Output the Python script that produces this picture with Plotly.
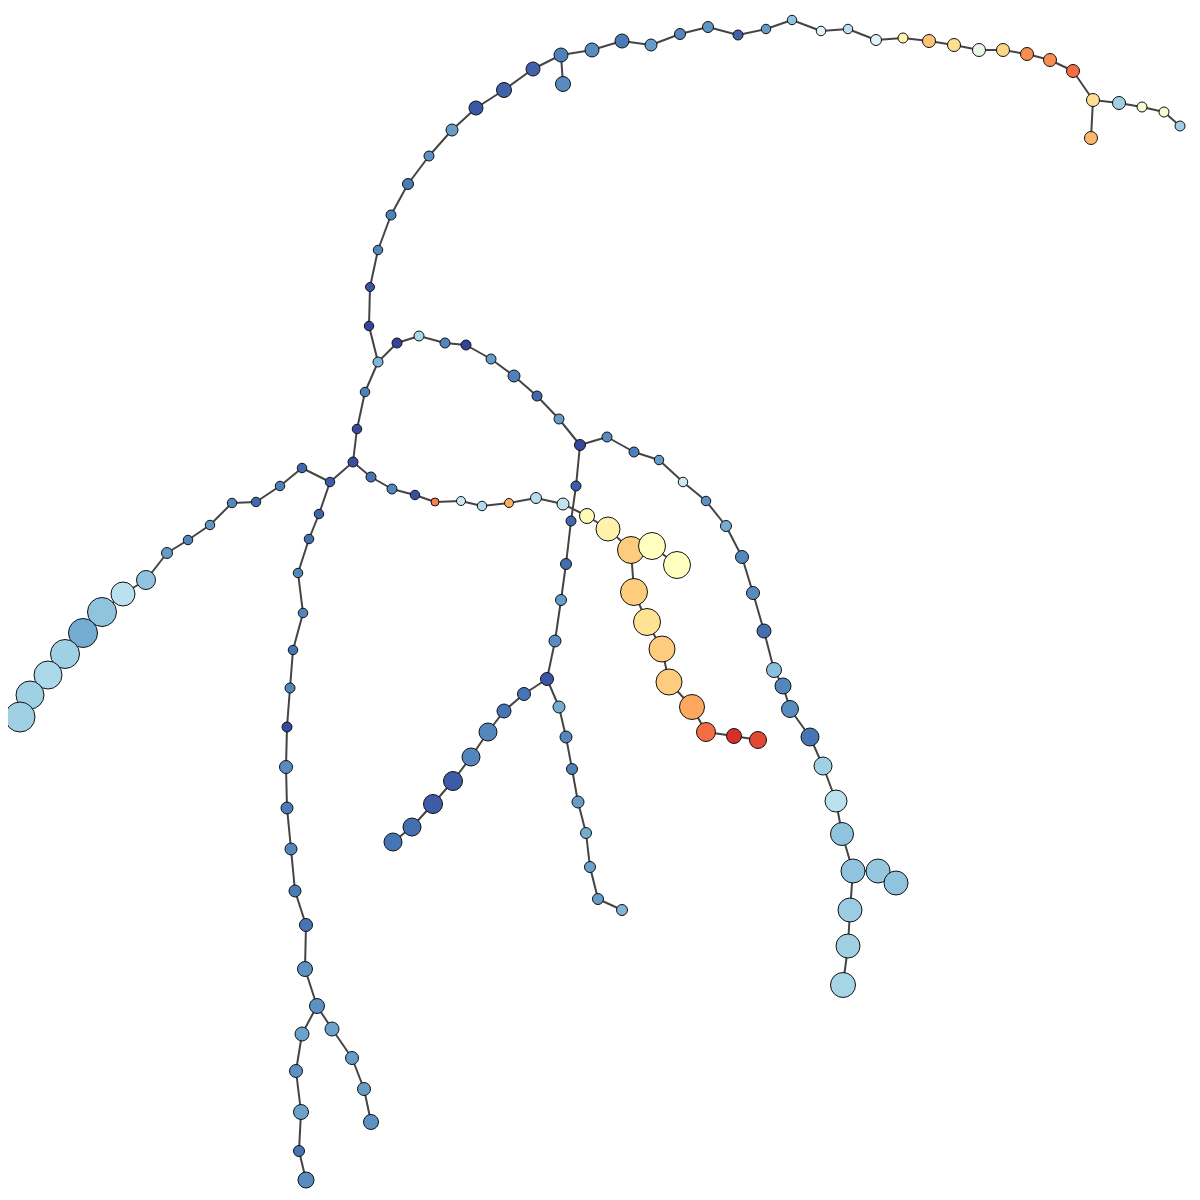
import plotly.graph_objects as go

# Tree layout: node positions (pixel space), node sizes, node values, parent index
node_x = [378, 369, 370, 378, 391, 408, 429, 452, 476, 504, 533, 561, 563, 592, 622, 651, 680, 708, 738, 766,
          792, 821, 848, 876, 903, 929, 954, 979, 1003, 1027, 1050, 1073, 1093, 1091, 1119, 1142, 1164, 1180,
          397, 419, 445, 466, 491, 514, 537, 559, 580,
          607, 634, 659, 683, 706, 726, 742, 753, 764, 774, 783, 790, 810, 823, 836, 842, 853, 878, 896, 850, 848, 843,
          576, 571, 566, 561, 555, 547, 524, 504, 488, 471, 453, 433, 412, 393,
          559, 566, 572, 578, 586, 590, 598, 622,
          365, 357, 353,
          371, 392, 415, 435, 461, 482, 509, 536, 563, 587, 608, 631, 652, 677, 634, 647, 662, 669, 692, 706, 734, 758,
          330, 302, 280, 256, 232, 210, 188, 167, 146, 123, 102, 83, 65, 48, 30, 20,
          319, 309, 298, 303, 293, 290, 287, 286, 287, 291, 295, 306, 305, 317, 302, 296, 301, 299, 306,
          332, 352, 364, 371]
node_y = [362, 326, 287, 250, 215, 184, 156, 130, 108, 90, 69, 55, 84, 50, 41, 45, 34, 27, 35, 29,
          20, 31, 29, 40, 38, 41, 45, 50, 50, 54, 60, 71, 100, 138, 103, 107, 112, 126,
          343, 336, 343, 345, 359, 376, 396, 419, 445,
          437, 452, 460, 482, 501, 526, 557, 593, 631, 670, 686, 709, 737, 766, 801, 834, 871, 871, 883, 910, 946, 985,
          486, 521, 564, 600, 641, 679, 694, 711, 732, 757, 781, 804, 827, 842,
          707, 737, 769, 802, 833, 867, 899, 910,
          392, 429, 462,
          477, 489, 495, 502, 501, 506, 503, 498, 504, 516, 529, 550, 546, 565, 592, 622, 649, 682, 707, 732, 736, 740,
          482, 468, 486, 502, 503, 525, 540, 553, 580, 594, 612, 633, 654, 675, 695, 717,
          514, 539, 573, 613, 650, 688, 727, 767, 808, 849, 891, 925, 969, 1006, 1034, 1071, 1112, 1151, 1180,
          1029, 1058, 1089, 1122]
node_size = [10, 9.5, 9, 9.5, 10, 11, 10, 12, 14, 15, 14, 14, 15, 14, 14, 12, 11, 11, 10, 9.5,
             9.5, 9.5, 9.5, 11, 10, 13, 13, 13, 13, 13, 13, 13, 13, 13, 13, 10, 10, 10,
             10, 10, 10, 10, 10, 12, 10, 10, 11,
             10, 10, 9.5, 9.5, 9.5, 11, 13, 13, 14, 15, 16, 17, 18, 18, 22, 23, 24, 24, 24, 24, 24, 25,
             10, 10, 11, 11, 12, 13, 13, 14, 18, 18, 19, 19, 18, 18,
             12, 12, 11, 12, 11, 11, 11, 11,
             9.5, 9.5, 10,
             10, 10, 9.5, 8, 9, 9.5, 9, 11, 12, 15, 24, 27, 27, 27, 27, 27, 26, 26, 25, 19, 15, 17,
             9.5, 9.5, 9.5, 9.5, 9.5, 9.5, 9.5, 11, 19, 24, 29, 29, 29, 28, 28, 30,
             9.5, 9.5, 9.5, 9.5, 9.5, 10, 10, 13, 12, 12, 12, 13, 15, 15, 14, 13, 15, 11, 16,
             14, 13, 13, 15]
node_value = [0.22, 0.02, 0.05, 0.13, 0.12, 0.11, 0.15, 0.17, 0.05, 0.07, 0.07, 0.12, 0.14, 0.14, 0.11, 0.17, 0.13, 0.16, 0.07, 0.17,
              0.25, 0.40, 0.33, 0.40, 0.53, 0.66, 0.60, 0.43, 0.62, 0.75, 0.75, 0.80, 0.60, 0.68, 0.28, 0.47, 0.47, 0.28,
              0.02, 0.30, 0.13, 0.02, 0.17, 0.12, 0.08, 0.17, 0.03,
              0.14, 0.12, 0.17, 0.36, 0.15, 0.20, 0.13, 0.14, 0.09, 0.24, 0.13, 0.14, 0.10, 0.28, 0.33, 0.25, 0.25, 0.26, 0.25, 0.27, 0.28, 0.29,
              0.06, 0.08, 0.09, 0.17, 0.14, 0.05, 0.10, 0.10, 0.13, 0.13, 0.06, 0.06, 0.09, 0.10,
              0.20, 0.13, 0.12, 0.17, 0.20, 0.18, 0.17, 0.22,
              0.12, 0.03, 0.04,
              0.10, 0.13, 0.04, 0.77, 0.36, 0.31, 0.70, 0.32, 0.34, 0.52, 0.54, 0.64, 0.50, 0.50, 0.64, 0.59, 0.64, 0.64, 0.71, 0.80, 0.90, 0.86,
              0.06, 0.08, 0.12, 0.08, 0.13, 0.16, 0.13, 0.17, 0.25, 0.33, 0.25, 0.20, 0.28, 0.30, 0.28, 0.28,
              0.07, 0.09, 0.13, 0.13, 0.10, 0.13, 0.03, 0.14, 0.11, 0.13, 0.11, 0.10, 0.15, 0.15, 0.18, 0.15, 0.18, 0.10, 0.14,
              0.18, 0.17, 0.17, 0.15]
node_parent = [-1, 0, 1, 2, 3, 4, 5, 6, 7, 8, 9, 10, 11, 11, 13, 14, 15, 16, 17, 18,
               19, 20, 21, 22, 23, 24, 25, 26, 27, 28, 29, 30, 31, 32, 32, 34, 35, 36,
               0, 38, 39, 40, 41, 42, 43, 44, 45,
               46, 47, 48, 49, 50, 51, 52, 53, 54, 55, 56, 57, 58, 59, 60, 61, 62, 63, 64, 63, 66, 67,
               46, 69, 70, 71, 72, 73, 74, 75, 76, 77, 78, 79, 80, 81,
               74, 83, 84, 85, 86, 87, 88, 89,
               0, 91, 92,
               93, 94, 95, 96, 97, 98, 99, 100, 101, 102, 103, 104, 105, 106, 105, 108, 109, 110, 111, 112, 113, 114,
               93, 116, 117, 118, 119, 120, 121, 122, 123, 124, 125, 126, 127, 128, 129, 130,
               116, 132, 133, 134, 135, 136, 137, 138, 139, 140, 141, 142, 143, 144, 145, 146, 147, 148, 149,
               145, 151, 152, 153]

edge_x, edge_y = [], []
for i, p in enumerate(node_parent):
    if p < 0:
        continue
    edge_x += [node_x[p], node_x[i], None]
    edge_y += [node_y[p], node_y[i], None]

fig = go.Figure()
fig.add_trace(go.Scatter(x=edge_x, y=edge_y, mode="lines",
                         line=dict(color="#444444", width=2), hoverinfo="skip"))
fig.add_trace(go.Scatter(x=node_x, y=node_y, mode="markers",
                         marker=dict(size=node_size, color=node_value, colorscale="RdYlBu_r",
                                     cmin=0, cmax=1, line=dict(color="#111111", width=1),
                                     opacity=1),
                         hoverinfo="text", text=[f"node {i}" for i in range(len(node_x))]))
fig.update_layout(width=1192, height=1192, margin=dict(l=0, r=0, t=0, b=0),
                  paper_bgcolor="white", plot_bgcolor="white", showlegend=False,
                  xaxis=dict(range=[8, 1200], visible=False, fixedrange=True),
                  yaxis=dict(range=[1200, 8], visible=False, fixedrange=True))
fig.write_html("out.html")
